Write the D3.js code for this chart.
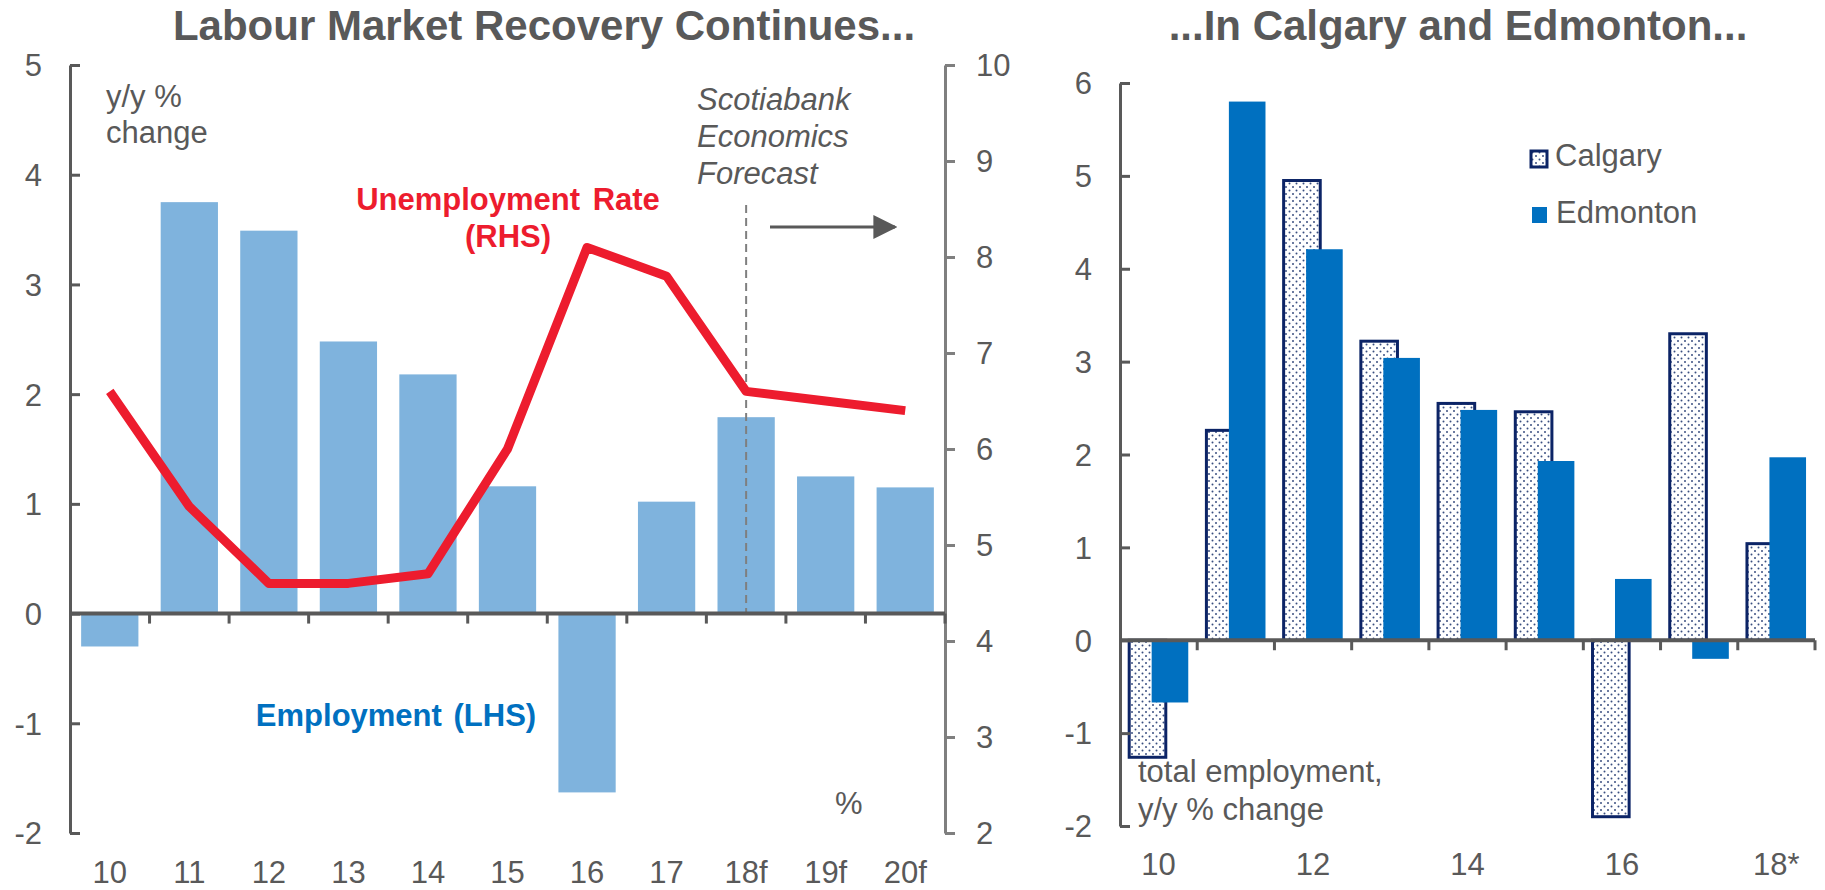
<!doctype html>
<html lang="en">
<head>
  <meta charset="utf-8">
  <title>Alberta labour market</title>
  <style>
    body { margin: 0; background: #fff; }
    svg { display: block; font-family: "Liberation Sans", Arial, sans-serif; }
    .tick text { fill: #595959; font-size: 31px; }
    .title { fill: #595959; font-size: 42px; font-weight: bold; }
    .note { fill: #595959; font-size: 31px; }
  </style>
</head>
<body>
  <div id="chart"></div>
  <script src="https://cdn.jsdelivr.net/npm/d3@7/dist/d3.min.js"></script>
  <script>
(function(){

  // left chart data
  var years = ["10", "11", "12", "13", "14", "15", "16", "17", "18f", "19f", "20f"];
  var employment = [-0.3, 3.75, 3.49, 2.48, 2.18, 1.16, -1.63, 1.02, 1.79, 1.25, 1.15];
  var unemployment = [6.6, 5.4, 4.6, 4.6, 4.7, 6.0, 8.1, 7.8, 6.6, 6.5, 6.4];
  var leftTicks = [-2, -1, 0, 1, 2, 3, 4, 5];
  var rightTicks = [2, 3, 4, 5, 6, 7, 8, 9, 10];

  // right chart data
  var cityYears = ["10", "11", "12", "13", "14", "15", "16", "17", "18*"];
  var cityLabels = ["10", "12", "14", "16", "18*"];
  var calgary = [-1.26, 2.26, 4.95, 3.22, 2.55, 2.46, -1.90, 3.30, 1.04];
  var edmonton = [-0.67, 5.80, 4.21, 3.04, 2.48, 1.93, 0.66, -0.20, 1.97];
  var cityTicks = [-2, -1, 0, 1, 2, 3, 4, 5, 6];

  var width = 1825, height = 890;
  var grey = "#595959";
  var fmt = function(d) { return String(d); };  // plain hyphen for negatives

  var svg = d3.select("#chart").append("svg")
      .attr("width", width)
      .attr("height", height);

  var defs = svg.append("defs");
  // dotted fill for Calgary bars
  var pat = defs.append("pattern")
      .attr("id", "dots")
      .attr("width", 7).attr("height", 7)
      .attr("patternUnits", "userSpaceOnUse");
  pat.append("rect").attr("width", 7).attr("height", 7).attr("fill", "#fff");
  pat.append("circle").attr("cx", 1.5).attr("cy", 1.5).attr("r", 1).attr("fill", "#3a4f80");
  pat.append("circle").attr("cx", 5).attr("cy", 5).attr("r", 1).attr("fill", "#3a4f80");

  defs.append("marker")
      .attr("id", "arrow")
      .attr("viewBox", "0 0 10 10")
      .attr("refX", 9).attr("refY", 5)
      .attr("markerWidth", 8).attr("markerHeight", 8)
      .attr("orient", "auto")
    .append("path").attr("d", "M0,0 L10,5 L0,10 z").attr("fill", grey);

  // ---------- left chart ----------
  var x = d3.scaleBand().domain(years).range([70, 945]).paddingInner(0.28).paddingOuter(0.14);
  var y = d3.scaleLinear().domain([-2, 5]).range([833, 65]);
  var y2 = d3.scaleLinear().domain([2, 10]).range([833, 65]);

  var left = svg.append("g");

  left.append("text").attr("class", "title")
      .attr("x", 544).attr("y", 40)
      .attr("text-anchor", "middle")
      .text("Labour Market Recovery Continues...");

  left.selectAll("rect.emp").data(employment).enter()
    .append("rect")
      .attr("class", "emp")
      .attr("x", function(d, i) { return x(years[i]); })
      .attr("width", x.bandwidth())
      .attr("y", function(d) { return y(Math.max(0, d)); })
      .attr("height", function(d) { return Math.abs(y(d) - y(0)); })
      .attr("fill", "#7fb3dd");

  // forecast divider
  var xf = x("18f") + x.bandwidth() / 2;
  left.append("line")
      .attr("x1", xf).attr("x2", xf)
      .attr("y1", 205).attr("y2", y(0))
      .attr("stroke", "#7f7f7f").attr("stroke-width", 2)
      .attr("stroke-dasharray", "8,5");

  // left axis
  var yAxis = d3.axisRight(y).tickValues(leftTicks).tickSize(10).tickSizeOuter(0).tickFormat(fmt);
  var gy = left.append("g").attr("transform", "translate(70,0)").call(yAxis);
  gy.selectAll("text").attr("x", -28).attr("text-anchor", "end").attr("dy", "0.35em");
  gy.selectAll("line, path").attr("stroke", grey).attr("stroke-width", 3);

  // right axis
  var y2Axis = d3.axisRight(y2).tickValues(rightTicks).tickSize(10).tickSizeOuter(0).tickFormat(fmt);
  var gy2 = left.append("g").attr("transform", "translate(945,0)").call(y2Axis);
  gy2.selectAll("text").attr("x", 31).attr("text-anchor", "start").attr("dy", "0.35em");
  gy2.selectAll("line, path").attr("stroke", "#7f7f7f").attr("stroke-width", 3);

  // zero line with category ticks
  var xAxis = d3.axisBottom(x).tickSize(0).tickPadding(0);
  var gx = left.append("g").attr("transform", "translate(0," + y(0) + ")").call(xAxis);
  gx.select(".domain").remove();
  gx.selectAll("text").attr("y", 0).attr("dy", 0)
      .attr("transform", "translate(0," + (883 - y(0)) + ")");
  left.append("line")
      .attr("x1", 70).attr("x2", 945).attr("y1", y(0)).attr("y2", y(0))
      .attr("stroke", grey).attr("stroke-width", 4);
  left.selectAll("line.xt").data(years).enter()
    .append("line")
      .attr("class", "xt")
      .attr("x1", function(d) { return x(d) + x.bandwidth() + x.step() * x.paddingInner() / 2; })
      .attr("x2", function(d) { return x(d) + x.bandwidth() + x.step() * x.paddingInner() / 2; })
      .attr("y1", y(0)).attr("y2", y(0) + 10)
      .attr("stroke", grey).attr("stroke-width", 3);

  // unemployment line
  var line = d3.line()
      .x(function(d, i) { return x(years[i]) + x.bandwidth() / 2; })
      .y(function(d) { return y2(d); });
  left.append("path")
      .datum(unemployment)
      .attr("d", line)
      .attr("fill", "none")
      .attr("stroke", "#ed1c2e")
      .attr("stroke-width", 9)
      .attr("stroke-linejoin", "round");

  // annotations
  left.append("text").attr("class", "note").attr("x", 106).attr("y", 107).text("y/y %");
  left.append("text").attr("class", "note").attr("x", 106).attr("y", 143).text("change");

  var fc = left.append("text").attr("class", "note")
      .attr("font-style", "italic").attr("font-size", "32px");
  ["Scotiabank", "Economics", "Forecast"].forEach(function(t, i) {
    fc.append("tspan").attr("x", 697).attr("y", 110 + i * 37).text(t);
  });

  left.append("line")
      .attr("x1", 770).attr("x2", 895).attr("y1", 227).attr("y2", 227)
      .attr("stroke", grey).attr("stroke-width", 3)
      .attr("marker-end", "url(#arrow)");

  var ur = left.append("text")
      .attr("fill", "#ed1c2e").attr("font-size", "31px").attr("font-weight", "bold")
      .attr("text-anchor", "middle").attr("word-spacing", "4px");
  ur.append("tspan").attr("x", 508).attr("y", 210).text("Unemployment Rate");
  ur.append("tspan").attr("x", 508).attr("y", 247).text("(RHS)");

  left.append("text")
      .attr("fill", "#0070c0").attr("font-size", "31px").attr("font-weight", "bold")
      .attr("text-anchor", "middle").attr("word-spacing", "3px")
      .attr("x", 396).attr("y", 726)
      .text("Employment (LHS)");

  left.append("text").attr("class", "note").attr("x", 835).attr("y", 814).text("%");

  // ---------- right chart ----------
  var xc = d3.scaleBand().domain(cityYears).range([1120, 1815]);
  var yc = d3.scaleLinear().domain([-2, 6]).range([826, 83]);
  var bw = xc.step() * 0.474;

  var right = svg.append("g");

  right.append("text").attr("class", "title")
      .attr("x", 1458).attr("y", 40)
      .attr("text-anchor", "middle")
      .text("...In Calgary and Edmonton...");

  right.selectAll("rect.cal").data(calgary).enter()
    .append("rect")
      .attr("class", "cal")
      .attr("x", function(d, i) { return xc(cityYears[i]) + xc.step() * 0.119; })
      .attr("width", bw)
      .attr("y", function(d) { return yc(Math.max(0, d)); })
      .attr("height", function(d) { return Math.abs(yc(d) - yc(0)); })
      .attr("fill", "url(#dots)")
      .attr("stroke", "#0c2466")
      .attr("stroke-width", 3);

  right.selectAll("rect.edm").data(edmonton).enter()
    .append("rect")
      .attr("class", "edm")
      .attr("x", function(d, i) { return xc(cityYears[i]) + xc.step() * 0.41; })
      .attr("width", bw)
      .attr("y", function(d) { return yc(Math.max(0, d)); })
      .attr("height", function(d) { return Math.abs(yc(d) - yc(0)); })
      .attr("fill", "#0070c0");

  var ycAxis = d3.axisRight(yc).tickValues(cityTicks).tickSize(10).tickSizeOuter(0).tickFormat(fmt);
  var gyc = right.append("g").attr("transform", "translate(1120,0)").call(ycAxis);
  gyc.selectAll("text").attr("x", -28).attr("text-anchor", "end").attr("dy", "0.35em");
  gyc.selectAll("line, path").attr("stroke", grey).attr("stroke-width", 3);

  right.append("line")
      .attr("x1", 1120).attr("x2", 1815).attr("y1", yc(0)).attr("y2", yc(0))
      .attr("stroke", grey).attr("stroke-width", 4);
  right.selectAll("line.xt").data(cityYears).enter()
    .append("line")
      .attr("class", "xt")
      .attr("x1", function(d) { return xc(d) + xc.step(); })
      .attr("x2", function(d) { return xc(d) + xc.step(); })
      .attr("y1", yc(0)).attr("y2", yc(0) + 10)
      .attr("stroke", grey).attr("stroke-width", 3);

  right.selectAll("text.xl").data(cityLabels).enter()
    .append("text")
      .attr("class", "note xl")
      .attr("x", function(d) { return xc(d) + xc.step() / 2; })
      .attr("y", 875)
      .attr("text-anchor", "middle")
      .text(function(d) { return d; });

  // legend
  var lg = right.append("g").attr("transform", "translate(1531,151)");
  lg.append("rect").attr("width", 16).attr("height", 16)
      .attr("fill", "url(#dots)").attr("stroke", "#0c2466").attr("stroke-width", 3);
  lg.append("text").attr("class", "note").attr("x", 24).attr("y", 15).text("Calgary");
  lg.append("rect").attr("x", 1).attr("y", 56).attr("width", 15).attr("height", 16).attr("fill", "#0070c0");
  lg.append("text").attr("class", "note").attr("x", 25).attr("y", 72).text("Edmonton");

  var te = right.append("text").attr("class", "note");
  te.append("tspan").attr("x", 1138).attr("y", 782).text("total employment,");
  te.append("tspan").attr("x", 1138).attr("y", 820).text("y/y % change");

})();
  </script>
</body>
</html>
